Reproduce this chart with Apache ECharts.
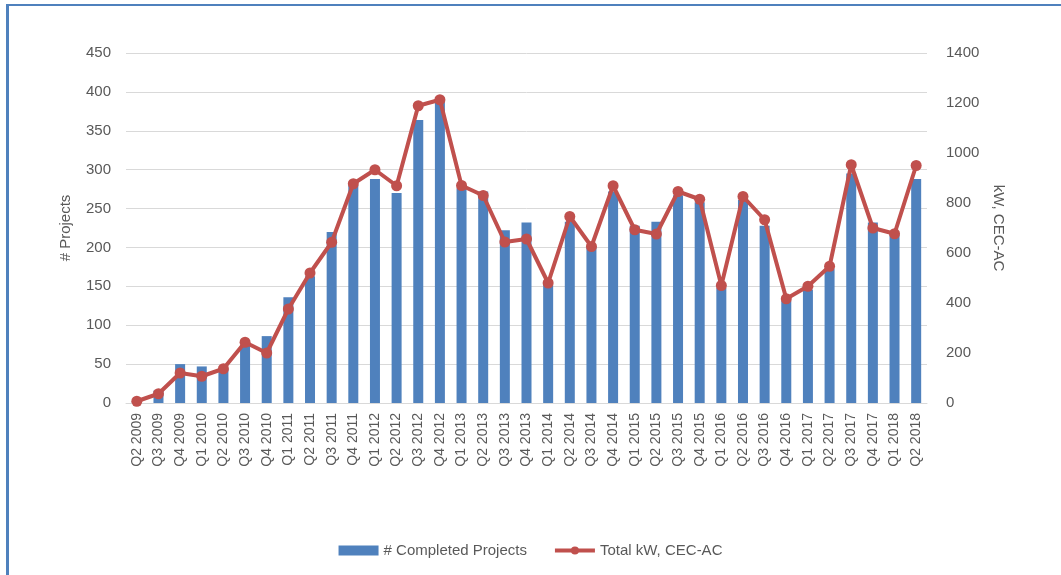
<!DOCTYPE html>
<html>
<head>
<meta charset="utf-8">
<script src="https://cdn.jsdelivr.net/npm/echarts@6/dist/echarts.min.js"></script>
<style>
  html, body { margin: 0; padding: 0; background: #fff; }
  #chart { position: absolute; left: 0; top: 0; width: 1061px; height: 575px; }
  #frame {
    position: absolute; left: 6px; top: 4px; width: 1055px; height: 571px;
    border-top: 2px solid #4F81BD; border-left: 3px solid #4F81BD;
    box-sizing: border-box; pointer-events: none;
  }
</style>
</head>
<body>
<div id="chart"></div>
<div id="frame"></div>
<script>
const quarters = [
  'Q2 2009', 'Q3 2009', 'Q4 2009', 'Q1 2010', 'Q2 2010', 'Q3 2010', 'Q4 2010',
  'Q1 2011', 'Q2 2011', 'Q3 2011', 'Q4 2011', 'Q1 2012', 'Q2 2012', 'Q3 2012',
  'Q4 2012', 'Q1 2013', 'Q2 2013', 'Q3 2013', 'Q4 2013', 'Q1 2014', 'Q2 2014',
  'Q3 2014', 'Q4 2014', 'Q1 2015', 'Q2 2015', 'Q3 2015', 'Q4 2015', 'Q1 2016',
  'Q2 2016', 'Q3 2016', 'Q4 2016', 'Q1 2017', 'Q2 2017', 'Q3 2017', 'Q4 2017',
  'Q1 2018', 'Q2 2018'
];

// # Completed Projects (left axis)
const completedProjects = [
  2, 16, 50, 47, 44, 75, 86,
  136, 163, 220, 280, 288, 270, 364,
  387, 276, 272, 222, 232, 152, 233,
  201, 272, 228, 233, 267, 258, 148,
  261, 228, 131, 146, 173, 295, 232,
  216, 288
];

// Total kW, CEC-AC (right axis)
const totalKw = [
  7, 37, 120, 107, 137, 243, 200,
  376, 520, 643, 877, 933, 869, 1189,
  1213, 870, 830, 644, 656, 480, 746,
  626, 869, 693, 676, 846, 815, 470,
  826, 733, 417, 467, 547, 953, 700,
  677, 950
];

const textColor = '#595959';
const gridColor = '#D9D9D9';
const barColor = '#4F81BD';
const lineColor = '#C0504D';

const chart = echarts.init(document.getElementById('chart'), null, { renderer: 'canvas' });

const option = {
  animation: false,
  textStyle: { fontFamily: 'Liberation Sans, Arial, sans-serif' },
  grid: { left: 126, right: 134, top: 53, bottom: 172, containLabel: false },
  legend: {
    bottom: 12,
    left: 'center',
    itemWidth: 40,
    itemHeight: 10,
    itemGap: 26,
    textStyle: { color: textColor, fontSize: 15 },
    data: [
      { name: '# Completed Projects', icon: 'rect' },
      { name: 'Total kW, CEC-AC', lineStyle: { width: 4 } }
    ]
  },
  xAxis: {
    type: 'category',
    data: quarters,
    axisTick: { show: false },
    axisLine: { lineStyle: { color: gridColor, width: 1 } },
    axisLabel: { rotate: 90, interval: 0, margin: 10, color: textColor, fontSize: 14 }
  },
  yAxis: [
    {
      type: 'value',
      min: 0,
      max: 450,
      interval: 50,
      name: '# Projects',
      nameLocation: 'middle',
      nameRotate: 90,
      nameGap: 53,
      nameTextStyle: { color: textColor, fontSize: 15 },
      axisLine: { show: false },
      axisTick: { show: false },
      axisLabel: { color: textColor, fontSize: 15, margin: 15 },
      splitLine: { lineStyle: { color: gridColor, width: 1 } }
    },
    {
      type: 'value',
      min: 0,
      max: 1400,
      interval: 200,
      name: 'kW, CEC-AC',
      nameLocation: 'middle',
      nameRotate: -90,
      nameGap: 61,
      nameTextStyle: { color: textColor, fontSize: 15 },
      axisLine: { show: false },
      axisTick: { show: false },
      axisLabel: { color: textColor, fontSize: 15, margin: 19, formatter: (v) => String(v) },
      splitLine: { show: false }
    }
  ],
  series: [
    {
      name: '# Completed Projects',
      type: 'bar',
      yAxisIndex: 0,
      barWidth: 10,
      itemStyle: { color: barColor },
      data: completedProjects
    },
    {
      name: 'Total kW, CEC-AC',
      type: 'line',
      yAxisIndex: 1,
      symbol: 'circle',
      symbolSize: 11,
      lineStyle: { color: lineColor, width: 4 },
      itemStyle: { color: lineColor },
      data: totalKw
    }
  ]
};

chart.setOption(option);
</script>
</body>
</html>
